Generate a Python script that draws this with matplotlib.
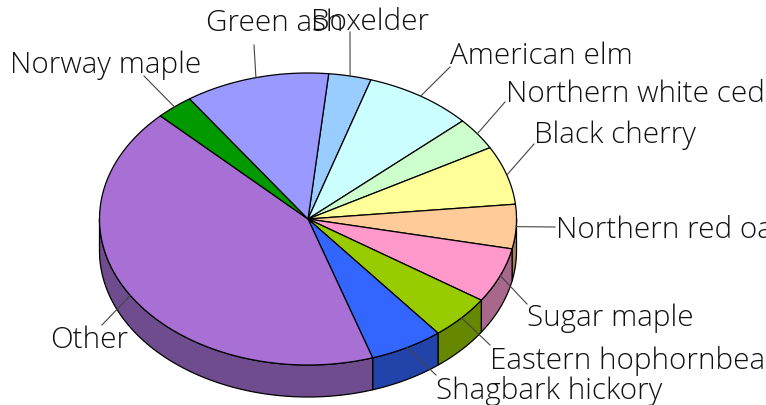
import numpy as np
import matplotlib
matplotlib.use("Agg")
import matplotlib.pyplot as plt

# species shares (percent), clockwise starting just right of 12 o'clock
species = ["Boxelder", "American elm", "Northern white cedar", "Black cherry",
           "Northern red oak", "Sugar maple", "Eastern hophornbeam",
           "Shagbark hickory", "Other", "Norway maple", "Green ash"]
shares = [3.3, 8.4, 3.6, 6.5, 4.9, 6.1, 4.9, 5.7, 42.5, 2.9, 11.2]
top_colors = ["#99ccff", "#ccffff", "#ccffcc", "#ffff99", "#ffcc99", "#ff99cc",
              "#99cc00", "#3366ff", "#a86fd4", "#009900", "#9999ff"]
side_colors = ["#6688aa", "#88aaaa", "#88aa88", "#aaaa66", "#a5835a", "#a8688c",
               "#668800", "#2244aa", "#6f4c8e", "#006600", "#6666aa"]

# label placement in pixels: left edge, baseline
label_x = [311, 450, 506, 534, 556, 527, 490, 436, 50, 10, 206]
label_y = [30, 64, 102, 143, 238, 326, 369, 399, 348, 73, 31]
# where the leader stops near the label
leader_x = [350, 450, 505, 534, 555, 527, 490, 436, 102, 144, 254]
leader_y = [33, 68, 103, 145, 228, 305, 346, 376, 326, 77, 46]

cx, cy = 308, 220
rx, ry = 208.5, 146
depth = 32
start = 5.7


def rim(deg):
    a = np.radians(deg)
    return cx + rx * np.sin(a), cy - ry * np.cos(a)


fig = plt.figure(figsize=(7.66, 4.06), dpi=100)
ax = fig.add_axes([0, 0, 1, 1])
ax.set_xlim(0, 766)
ax.set_ylim(406, 0)
ax.axis("off")

edges = start + np.cumsum([0] + shares) * 3.6 / (sum(shares) / 100)

# side wall, only the front half of the ellipse shows
for i in range(len(shares)):
    a0, a1 = max(edges[i], 90), min(edges[i + 1], 270)
    if a1 <= a0:
        continue
    t = np.linspace(a0, a1, 80)
    x, y = rim(t)
    ax.fill(np.r_[x, x[::-1]], np.r_[y, y[::-1] + depth],
            fc=side_colors[i], ec="black", lw=0.9, joinstyle="round", zorder=1)

# top face
for i in range(len(shares)):
    t = np.linspace(edges[i], edges[i + 1], 120)
    x, y = rim(t)
    ax.fill(np.r_[cx, x], np.r_[cy, y], fc=top_colors[i], ec="black", lw=0.9,
            joinstyle="round", zorder=2)

# leaders and labels
for i, name in enumerate(species):
    ex, ey = rim((edges[i] + edges[i + 1]) / 2)
    ax.plot([leader_x[i], ex], [leader_y[i], ey], color="#444444", lw=0.8, zorder=3)
    ax.text(label_x[i], label_y[i], name, fontsize=21.3, color="#111111",
            family="Open Sans", weight="light", ha="left", va="baseline", zorder=4)

fig.savefig("out.png", dpi=100, facecolor="white")
